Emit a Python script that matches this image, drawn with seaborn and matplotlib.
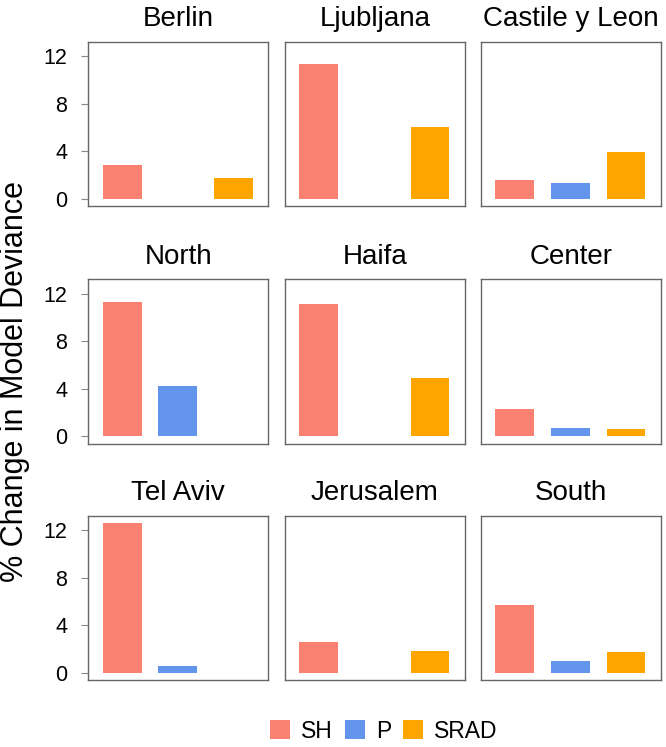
import matplotlib
matplotlib.use("Agg")
import matplotlib.pyplot as plt
from matplotlib.patches import Patch
import seaborn as sns
import pandas as pd

regions = ["Berlin", "Ljubljana", "Castile y Leon",
           "North", "Haifa", "Center",
           "Tel Aviv", "Jerusalem", "South"]
variables = ["SH", "P", "SRAD"]
sh = [2.87, 11.35, 1.57, 11.33, 11.13, 2.28, 12.65, 2.54, 5.71]
p = [0.0, 0.0, 1.27, 4.23, 0.0, 0.71, 0.56, 0.0, 0.96]
srad = [1.74, 6.05, 3.89, 0.0, 4.93, 0.59, 0.0, 1.78, 1.72]
yticks = [0, 4, 8, 12]

colors = {"SH": "#FA8072", "P": "#6495ED", "SRAD": "#FFA500"}

rows = []
for i, reg in enumerate(regions):
    for var, vals in zip(variables, [sh, p, srad]):
        rows.append({"region": reg, "var": var, "value": vals[i]})
df = pd.DataFrame(rows)

sns.set_style("white")
plt.rcParams["font.family"] = ["Liberation Sans", "DejaVu Sans"]
plt.rcParams["text.color"] = "black"
plt.rcParams["ytick.labelcolor"] = "black"

W, H = 666, 747
fig = plt.figure(figsize=(W / 100, H / 100), dpi=100)

col_left = [88.3, 285, 481]
row_top = [41.7, 279.3, 515.7]
pw, ph = 180, 164.5

for i, reg in enumerate(regions):
    r, c = divmod(i, 3)
    ax = fig.add_axes([col_left[c] / W, 1 - (row_top[r] + ph) / H, pw / W, ph / H])
    sub = df[df["region"] == reg]
    sns.barplot(data=sub, x="var", y="value", hue="var", order=variables,
                hue_order=variables, palette=colors, saturation=1, width=0.7,
                linewidth=0, legend=False, ax=ax)
    ax.set_xlim(-0.61, 2.63)
    ax.set_ylim(-0.65, 13.25)
    ax.set_xticks([])
    ax.set_xlabel("")
    ax.set_ylabel("")
    ax.set_title(reg, fontsize=20, pad=11, color="black")
    for s in ax.spines.values():
        s.set_color("#666666")
        s.set_linewidth(1.0)
    if c == 0:
        ax.set_yticks(yticks)
        ax.tick_params(axis="y", length=5, width=0.8, color="#888888",
                       labelsize=15.5, labelcolor="black", pad=10, left=True)
    else:
        ax.set_yticks([])

fig.text(15 / W, 1 - 381 / H, "% Change in Model Deviance", rotation=90,
         fontsize=22, ha="center", va="center", color="black")

handles = [Patch(facecolor=colors[v], edgecolor="none", label=v) for v in variables]
fig.legend(handles=handles, loc="center", bbox_to_anchor=(384 / W, 1 - 731 / H),
           ncol=3, frameon=False, fontsize=16.5, handlelength=0.87,
           handleheight=0.87, handletextpad=0.47, columnspacing=0.54,
           labelcolor="black")

fig.savefig("out.png", dpi=100)
